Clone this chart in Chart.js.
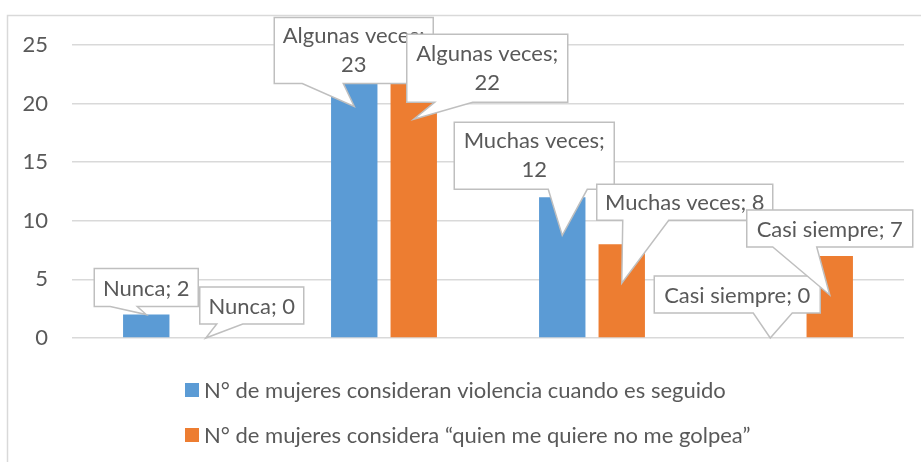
<!DOCTYPE html>
<html>
<head>
<meta charset="utf-8">
<script src="https://cdn.jsdelivr.net/npm/chart.js@4/dist/chart.umd.min.js"></script>
<style>
  html, body { margin: 0; padding: 0; background: #fff; }
  #chartReport { position: relative; width: 921px; height: 462px; }
</style>
</head>
<body>
<div id="chartReport"><canvas id="myChart"></canvas></div>
<script>
const categories = ['Nunca', 'Algunas veces', 'Muchas veces', 'Casi siempre'];
const seriesNames = [
  'N° de mujeres consideran violencia cuando es seguido',
  'N° de mujeres considera \u201cquien me quiere no me golpea\u201d',
];
const seguidoValues = [2, 23, 12, 0];
const golpeaValues = [0, 22, 8, 7];
const yMin = 0;
const yMax = 25;
const yStep = 5;

const BLUE = '#5b9bd5';
const ORANGE = '#ed7d31';
const TEXT = '#595959';
const FONT = 'Lato, "Open Sans", sans-serif';

// callout boxes, relative to the top centre of each bar (pixels)
// dx/dy = box top-left, w/h = box size, base = pointer base on box bottom, tip = pointer tip below bar top
const calloutLayouts = [
  [
    { dx: -52, dy: -46, w: 104, h: 38, base: [-36, -9], tip: 0 },
    { dx: -80, dy: -51, w: 159, h: 66, base: [-52, -11], tip: 38, wrap: true },
    { dx: -108, dy: -75, w: 160, h: 67, base: [-14, 25], tip: 38, wrap: true },
    { dx: -116, dy: -62, w: 166, h: 37, base: [-17, 22], tip: 0 },
  ],
  [
    { dx: -6, dy: -51, w: 104, h: 37, base: [11, 37], tip: 0 },
    { dx: -7, dy: -46, w: 161, h: 68, base: [21, 59], tip: 39, wrap: true },
    { dx: -25, dy: -60, w: 176, h: 36, base: [1, 47], tip: 39 },
    { dx: -83, dy: -46, w: 166, h: 37, base: [-57, -13], tip: 39 },
  ],
];

const frameBorder = {
  id: 'frameBorder',
  beforeDraw(chart) {
    const ctx = chart.ctx;
    ctx.save();
    ctx.strokeStyle = '#d9d9d9';
    ctx.lineWidth = 1.5;
    ctx.strokeRect(7.5, 15.5, 1000, 1000);
    ctx.restore();
  }
};

const callouts = {
  id: 'callouts',
  afterDatasetsDraw(chart) {
    const ctx = chart.ctx;
    chart.data.datasets.forEach((ds, d) => {
      const meta = chart.getDatasetMeta(d);
      meta.data.forEach((bar, i) => {
        const c = calloutLayouts[d][i];
        const left = bar.x + c.dx;
        const top = bar.y + c.dy;
        const right = left + c.w;
        const bottom = top + c.h;
        ctx.save();
        ctx.beginPath();
        ctx.moveTo(left, top);
        ctx.lineTo(right, top);
        ctx.lineTo(right, bottom);
        ctx.lineTo(bar.x + c.base[1], bottom);
        ctx.lineTo(bar.x, bar.y + c.tip);
        ctx.lineTo(bar.x + c.base[0], bottom);
        ctx.lineTo(left, bottom);
        ctx.closePath();
        ctx.fillStyle = '#fff';
        ctx.fill();
        ctx.strokeStyle = '#bfbfbf';
        ctx.lineWidth = 1.5;
        ctx.stroke();

        ctx.fillStyle = TEXT;
        ctx.font = '22px ' + FONT;
        ctx.textAlign = 'center';
        ctx.textBaseline = 'middle';
        const cx = (left + right) / 2;
        const cy = (top + bottom) / 2;
        const value = ds.data[i];
        if (c.wrap) {
          ctx.fillText(categories[i] + ';', cx, cy - 14.5);
          ctx.fillText(String(value), cx, cy + 14.5);
        } else {
          ctx.fillText(categories[i] + '; ' + value, cx, cy + 1);
        }
        ctx.restore();
      });
    });
  }
};

const legendRows = {
  id: 'legendRows',
  afterDraw(chart) {
    const ctx = chart.ctx;
    ctx.save();
    ctx.font = '22px ' + FONT;
    ctx.textBaseline = 'middle';
    ctx.textAlign = 'left';
    chart.data.datasets.forEach((ds, d) => {
      const rowY = 390 + d * 45;
      ctx.fillStyle = ds.backgroundColor;
      ctx.fillRect(185, rowY - 7, 14, 14);
      ctx.fillStyle = TEXT;
      ctx.fillText(ds.label, 204, rowY + 1);
    });
    ctx.restore();
  }
};

const ctx = document.getElementById('myChart');
const chart = new Chart(ctx, {
  type: 'bar',
  data: {
    labels: categories,
    datasets: [
      { label: seriesNames[0], data: seguidoValues, backgroundColor: BLUE },
      { label: seriesNames[1], data: golpeaValues, backgroundColor: ORANGE },
    ],
  },
  options: {
    responsive: true,
    maintainAspectRatio: false,
    animation: false,
    layout: {
      padding: { left: 0, right: 17, top: 45, bottom: 124 }
    },
    datasets: {
      bar: {
        categoryPercentage: 0.572,
        barPercentage: 0.78,
        borderWidth: 0,
      }
    },
    scales: {
      x: {
        afterFit(scale) { scale.height = 0; },
        ticks: { display: false },
        grid: { display: false },
        border: { display: false },
      },
      y: {
        min: yMin,
        max: yMax,
        afterFit(scale) { scale.width = 72; },
        ticks: {
          stepSize: yStep,
          padding: 24,
          color: TEXT,
          font: { family: FONT, size: 22 },
        },
        grid: {
          color: '#d9d9d9',
          lineWidth: 1.5,
          drawTicks: false,
        },
        border: { display: false },
      }
    },
    plugins: {
      legend: { display: false },
      tooltip: { enabled: false },
      title: { display: false },
    },
  },
  plugins: [frameBorder, callouts, legendRows],
});
</script>
</body>
</html>
